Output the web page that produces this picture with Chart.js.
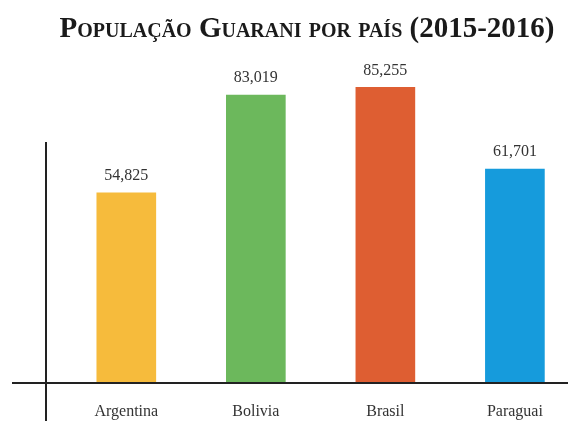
<!DOCTYPE html>
<html>
<head>
<meta charset="utf-8">
<script src="https://cdn.jsdelivr.net/npm/chart.js@4/dist/chart.umd.min.js"></script>
<style>
  html, body { margin: 0; padding: 0; background: #fff; }
  #wrap { width: 568px; height: 421px; }
</style>
</head>
<body>
<div id="wrap"><canvas id="guarani"></canvas></div>
<script>
const paises = ['Argentina', 'Bolivia', 'Brasil', 'Paraguai']
const populacao = [54825, 83019, 85255, 61701]
const cores = ['#f6bb3c', '#6cb85c', '#de5e32', '#169bdc']

const serif = "'Liberation Serif', 'DejaVu Serif', serif"

// value above each bar
const valueLabels = {
  id: 'valueLabels',
  afterDatasetsDraw (chart) {
    const { ctx } = chart
    const meta = chart.getDatasetMeta(0)
    ctx.save()
    ctx.font = '16px ' + serif
    ctx.fillStyle = '#333'
    ctx.textAlign = 'center'
    ctx.textBaseline = 'middle'
    meta.data.forEach((bar, i) => {
      ctx.fillText(populacao[i].toLocaleString('en-US'), bar.x, bar.y - 17)
    })
    ctx.restore()
  }
}

// crossed axis lines, running past the plot area
const axisLines = {
  id: 'axisLines',
  afterDatasetsDraw (chart) {
    const { ctx, chartArea } = chart
    const base = chart.scales.y.getPixelForValue(0)
    ctx.save()
    ctx.strokeStyle = '#222'
    ctx.lineWidth = 2
    ctx.beginPath()
    ctx.moveTo(12, base)
    ctx.lineTo(chart.width, base)
    ctx.moveTo(chartArea.left, 142)
    ctx.lineTo(chartArea.left, chart.height)
    ctx.stroke()
    ctx.restore()
  }
}

new Chart(document.getElementById('guarani'), {
  type: 'bar',
  data: {
    datasets: [
      {
        data: populacao.map((v, i) => ({ x: i, y: v })),
        backgroundColor: cores,
        barThickness: 59
      }
    ]
  },
  options: {
    responsive: true,
    maintainAspectRatio: false,
    animation: false,
    layout: { padding: { left: 46, right: 0, top: 0, bottom: 0 } },
    plugins: {
      legend: { display: false },
      tooltip: { enabled: false },
      title: {
        display: true,
        fullSize: false,
        text: 'População Guarani por país (2015-2016)',
        color: '#1a1a1a',
        font: { family: serif, size: 29, weight: 'small-caps bold', lineHeight: 1.2 },
        padding: { top: 12, bottom: 24.2 }
      }
    },
    scales: {
      x: {
        type: 'linear',
        offset: false,
        min: -0.62,
        max: 3.41,
        grid: { display: false, drawTicks: false },
        border: { display: false },
        afterBuildTicks: (scale) => {
          scale.ticks = paises.map((p, i) => ({ value: i }))
        },
        afterFit: (scale) => { scale.height = 38 },
        ticks: {
          padding: 19,
          autoSkip: false,
          maxRotation: 0,
          minRotation: 0,
          color: '#333',
          font: { family: serif, size: 16 },
          callback: (v) => paises[v]
        }
      },
      y: {
        display: false,
        min: 0,
        max: 90000
      }
    }
  },
  plugins: [valueLabels, axisLines]
})
</script>
</body>
</html>
